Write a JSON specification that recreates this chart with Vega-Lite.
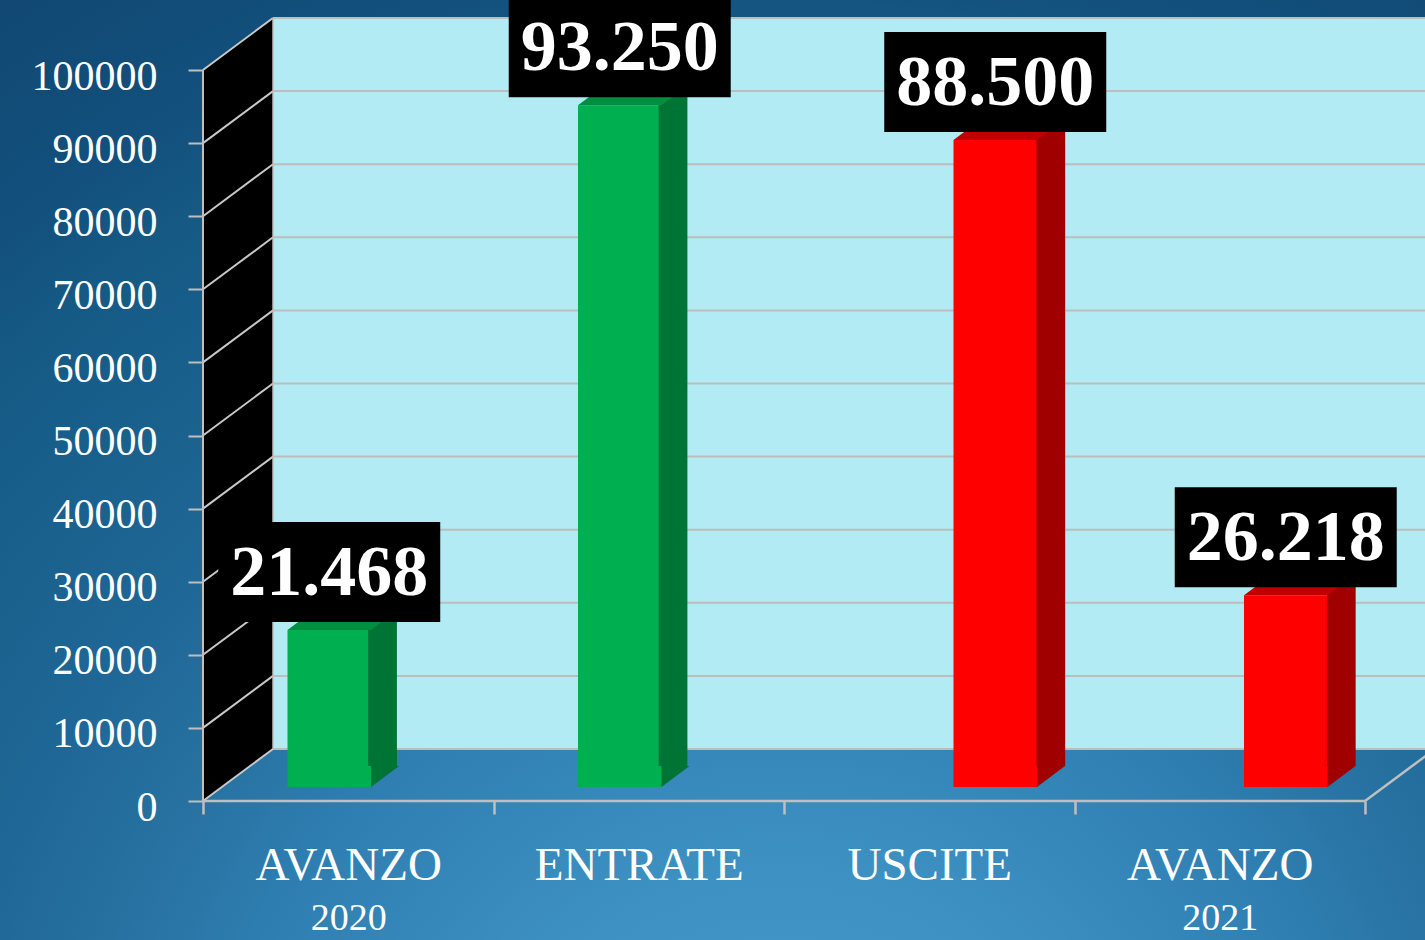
{
  "$schema": "https://vega.github.io/schema/vega-lite/v6.json",
  "width": 1222,
  "height": 801,
  "autosize": {"type": "none"},
  "padding": {"left": 203, "top": 0, "right": 0, "bottom": 139},
  "background": "#1f6796",
  "config": {
    "view": {"stroke": null},
    "axis": {"zindex": 1},
    "locale": {"number": {"decimal": ",", "thousands": ".", "grouping": [3], "currency": ["€", ""]}}
  },
  "datasets": {
    "voci": [
      {"voce": "AVANZO 2020", "serie": "Entrate", "valore": 21468},
      {"voce": "ENTRATE", "serie": "Entrate", "valore": 93250},
      {"voce": "USCITE", "serie": "Uscite", "valore": 88500},
      {"voce": "AVANZO 2021", "serie": "Uscite", "valore": 26218}
    ],
    "griglia": [
      {"v": 0}, {"v": 10000}, {"v": 20000}, {"v": 30000}, {"v": 40000}, {"v": 50000},
      {"v": 60000}, {"v": 70000}, {"v": 80000}, {"v": 90000}, {"v": 100000}
    ],
    "sfondo": [{}]
  },
  "resolve": {"scale": {"x": "independent"}, "axis": {"x": "independent"}},
  "layer": [
    {
      "data": {"name": "sfondo"},
      "layer": [
        {
          "mark": {
            "type": "rect",
            "fill": {
              "gradient": "radial",
              "x1": 0.55, "y1": 1, "r1": 0,
              "x2": 0.55, "y2": 1, "r2": 1,
              "stops": [
                {"offset": 0, "color": "#489dce"},
                {"offset": 0.2, "color": "#3f93c4"},
                {"offset": 0.41, "color": "#2e7db0"},
                {"offset": 0.46, "color": "#2a76a6"},
                {"offset": 0.59, "color": "#1f6796"},
                {"offset": 0.79, "color": "#155a85"},
                {"offset": 0.86, "color": "#13507d"},
                {"offset": 1, "color": "#104872"}
              ]
            }
          },
          "encoding": {
            "x": {
              "datum": -0.6988, "type": "quantitative",
              "scale": {"domain": [0, 4.2065], "nice": false, "zero": false},
              "axis": {
                "orient": "bottom",
                "values": [0.5, 3.5],
                "labelExpr": "datum.value < 2 ? '2020' : '2021'",
                "ticks": false, "domain": false, "grid": false, "title": null,
                "labelFont": "Liberation Serif", "labelFontSize": 38, "labelColor": "#FFFFFF",
                "labelPadding": 128, "labelBaseline": "alphabetic", "labelAngle": 0,
                "labelFlush": false, "labelLimit": 0, "labelOverlap": false,
                "offset": 0, "zindex": 1
              }
            },
            "x2": {"datum": 4.2065},
            "y": {
              "datum": -19015, "type": "quantitative",
              "scale": {"domain": [0, 109576], "nice": false, "zero": false}
            },
            "y2": {"datum": 109576}
          }
        },
        {
          "mark": {"type": "rect", "fill": "#B2EBF3", "xOffset": 70, "x2Offset": 70, "yOffset": -52, "y2Offset": -52},
          "encoding": {
            "x": {"datum": 0, "type": "quantitative", "scale": {"domain": [0, 4.2065], "nice": false, "zero": false}},
            "x2": {"datum": 4.2065},
            "y": {"datum": 0, "type": "quantitative", "scale": {"domain": [0, 109576], "nice": false, "zero": false}},
            "y2": {"datum": 100000}
          }
        },
        {
          "data": {"name": "griglia"},
          "mark": {"type": "rule", "stroke": "#BDBDBD", "strokeWidth": 2, "xOffset": 70, "x2Offset": 70, "yOffset": -52},
          "encoding": {
            "x": {"datum": 0, "type": "quantitative", "scale": {"domain": [0, 4.2065], "nice": false, "zero": false}},
            "x2": {"datum": 4.2065},
            "y": {"field": "v", "type": "quantitative", "scale": {"domain": [0, 109576], "nice": false, "zero": false}}
          }
        },
        {
          "mark": {"type": "point", "shape": "M0,0L0,-731L70,-783L70,-52Z", "size": 4, "filled": true, "fill": "#000000", "strokeWidth": 0, "opacity": 1},
          "encoding": {
            "x": {"datum": 0, "type": "quantitative", "scale": {"domain": [0, 4.2065], "nice": false, "zero": false}},
            "y": {"datum": 0, "type": "quantitative", "scale": {"domain": [0, 109576], "nice": false, "zero": false}}
          }
        },
        {
          "data": {"name": "griglia"},
          "mark": {"type": "rule", "stroke": "#C8C8C8", "strokeWidth": 2, "x2Offset": 70, "y2Offset": -52},
          "encoding": {
            "x": {"datum": 0, "type": "quantitative", "scale": {"domain": [0, 4.2065], "nice": false, "zero": false}},
            "x2": {"datum": 0},
            "y": {"field": "v", "type": "quantitative", "scale": {"domain": [0, 109576], "nice": false, "zero": false}},
            "y2": {"field": "v"}
          }
        },
        {
          "mark": {"type": "rule", "stroke": "#BFBFBF", "strokeWidth": 2},
          "encoding": {
            "x": {"datum": 0, "type": "quantitative", "scale": {"domain": [0, 4.2065], "nice": false, "zero": false}},
            "y": {"datum": 0, "type": "quantitative", "scale": {"domain": [0, 109576], "nice": false, "zero": false}},
            "y2": {"datum": 100000}
          }
        },
        {
          "mark": {"type": "rule", "stroke": "#BFBFBF", "strokeWidth": 1.5, "xOffset": 70, "yOffset": -52, "y2Offset": -52},
          "encoding": {
            "x": {"datum": 0, "type": "quantitative", "scale": {"domain": [0, 4.2065], "nice": false, "zero": false}},
            "y": {"datum": 0, "type": "quantitative", "scale": {"domain": [0, 109576], "nice": false, "zero": false}},
            "y2": {"datum": 100000}
          }
        },
        {
          "mark": {"type": "rule", "stroke": "#BFBFBF", "strokeWidth": 2.5},
          "encoding": {
            "x": {"datum": 0, "type": "quantitative", "scale": {"domain": [0, 4.2065], "nice": false, "zero": false}},
            "x2": {"datum": 4},
            "y": {"datum": 0, "type": "quantitative", "scale": {"domain": [0, 109576], "nice": false, "zero": false}}
          }
        },
        {
          "mark": {"type": "rule", "stroke": "#BFBFBF", "strokeWidth": 2.5, "x2Offset": 70, "y2Offset": -52},
          "encoding": {
            "x": {"datum": 4, "type": "quantitative", "scale": {"domain": [0, 4.2065], "nice": false, "zero": false}},
            "x2": {"datum": 4},
            "y": {"datum": 0, "type": "quantitative", "scale": {"domain": [0, 109576], "nice": false, "zero": false}},
            "y2": {"datum": 0}
          }
        }
      ]
    },
    {
      "data": {"name": "voci"},
      "resolve": {"scale": {"xOffset": "independent"}},
      "layer": [
        {
          "mark": {"type": "bar", "yOffset": -14, "y2Offset": -14},
          "encoding": {
            "x": {
              "field": "voce", "type": "nominal", "sort": null,
              "scale": {"type": "band", "domain": ["AVANZO 2020", "ENTRATE", "USCITE", "AVANZO 2021"], "paddingInner": 0, "paddingOuter": 0.10327, "align": 0},
              "axis": {
                "orient": "bottom",
                "title": null, "domain": false, "grid": false, "tickBand": "extent",
                "tickSize": 13, "tickColor": "#BFBFBF", "tickWidth": 2.5,
                "labelExpr": "split(datum.label, ' ')[0]",
                "labelFont": "Liberation Serif", "labelFontSize": 47, "labelColor": "#FFFFFF",
                "labelPadding": 65, "labelBaseline": "alphabetic", "labelAngle": 0, "labelLimit": 0,
                "offset": 0, "zindex": 1
              }
            },
            "xOffset": {"field": "serie", "type": "nominal", "scale": {"type": "band", "domain": ["Entrate", "Uscite"], "paddingInner": 0.0176, "paddingOuter": 0.7176, "align": 0.6926}},
            "y": {
              "field": "valore", "type": "quantitative",
              "scale": {"domain": [0, 109576], "nice": false, "zero": false},
              "axis": {
                "orient": "left",
                "values": [0, 10000, 20000, 30000, 40000, 50000, 60000, 70000, 80000, 90000, 100000],
                "format": "d", "title": null, "domain": false, "grid": false,
                "tickColor": "#BFBFBF", "tickSize": 15, "tickWidth": 2,
                "labelFont": "Liberation Serif", "labelFontSize": 42, "labelColor": "#FFFFFF",
                "labelPadding": 31, "labelBaseline": "middle", "labelOffset": 6, "labelLimit": 0,
                "labelFlush": false, "labelOverlap": false,
                "offset": 0, "zindex": 1
              }
            },
            "y2": {"datum": 0},
            "fill": {"condition": {"test": "datum.serie === 'Entrate'", "value": "#00B050"}, "value": "#FF0000"}
          }
        },
        {
          "mark": {"type": "bar", "yOffset": -35, "y2Offset": -35},
          "encoding": {
            "x": {
              "field": "voce", "type": "nominal", "sort": null,
              "scale": {"type": "band", "domain": ["AVANZO 2020", "ENTRATE", "USCITE", "AVANZO 2021"], "paddingInner": 0, "paddingOuter": 0.10327, "align": 0}
            },
            "xOffset": {"field": "serie", "type": "nominal", "scale": {"type": "band", "domain": ["Entrate", "Uscite"], "paddingInner": 0.6706, "paddingOuter": 1.0441, "align": 0.9465}},
            "y": {"field": "valore", "type": "quantitative", "scale": {"domain": [0, 109576], "nice": false, "zero": false}},
            "y2": {"datum": 0},
            "fill": {"condition": {"test": "datum.serie === 'Entrate'", "value": "#007434"}, "value": "#A00000"}
          }
        },
        {
          "mark": {"type": "point", "shape": "M-41.75,0L41.75,0L69.75,-21L-13.75,-21Z", "size": 4, "filled": true, "strokeWidth": 0, "opacity": 1, "yOffset": -14},
          "encoding": {
            "x": {
              "field": "voce", "type": "nominal", "sort": null,
              "scale": {"type": "band", "domain": ["AVANZO 2020", "ENTRATE", "USCITE", "AVANZO 2021"], "paddingInner": 0, "paddingOuter": 0.10327, "align": 0}
            },
            "xOffset": {"field": "serie", "type": "nominal", "scale": {"type": "band", "domain": ["Entrate", "Uscite"], "paddingInner": 0.0176, "paddingOuter": 0.7176, "align": 0.6926}},
            "y": {"field": "valore", "type": "quantitative", "scale": {"domain": [0, 109576], "nice": false, "zero": false}},
            "fill": {"condition": {"test": "datum.serie === 'Entrate'", "value": "#008F3E"}, "value": "#C00000"}
          }
        },
        {
          "mark": {"type": "point", "shape": "M41.75,0L41.75,-21L69.75,-21Z", "size": 4, "filled": true, "strokeWidth": 0, "opacity": 1, "yOffset": -14},
          "encoding": {
            "x": {
              "field": "voce", "type": "nominal", "sort": null,
              "scale": {"type": "band", "domain": ["AVANZO 2020", "ENTRATE", "USCITE", "AVANZO 2021"], "paddingInner": 0, "paddingOuter": 0.10327, "align": 0}
            },
            "xOffset": {"field": "serie", "type": "nominal", "scale": {"type": "band", "domain": ["Entrate", "Uscite"], "paddingInner": 0.0176, "paddingOuter": 0.7176, "align": 0.6926}},
            "y": {"datum": 0, "type": "quantitative", "scale": {"domain": [0, 109576], "nice": false, "zero": false}},
            "fill": {"condition": {"test": "datum.serie === 'Entrate'", "value": "#007434"}, "value": "#A00000"}
          }
        },
        {
          "mark": {"type": "bar", "width": 222, "fill": "#000000", "yOffset": -122, "y2Offset": -22},
          "encoding": {
            "x": {
              "field": "voce", "type": "nominal", "sort": null,
              "scale": {"type": "band", "domain": ["AVANZO 2020", "ENTRATE", "USCITE", "AVANZO 2021"], "paddingInner": 0, "paddingOuter": 0.10327, "align": 0}
            },
            "xOffset": {"field": "serie", "type": "nominal", "scale": {"type": "band", "domain": ["Entrate", "Uscite"], "paddingInner": 0.0176, "paddingOuter": 0.7176, "align": 0.6926}},
            "y": {"field": "valore", "type": "quantitative", "scale": {"domain": [0, 109576], "nice": false, "zero": false}},
            "y2": {"field": "valore"}
          }
        },
        {
          "mark": {"type": "text", "font": "Liberation Serif", "fontWeight": "bold", "fontSize": 72, "fill": "#FFFFFF", "align": "center", "baseline": "alphabetic", "yOffset": -49},
          "encoding": {
            "x": {
              "field": "voce", "type": "nominal", "sort": null,
              "scale": {"type": "band", "domain": ["AVANZO 2020", "ENTRATE", "USCITE", "AVANZO 2021"], "paddingInner": 0, "paddingOuter": 0.10327, "align": 0}
            },
            "xOffset": {"field": "serie", "type": "nominal", "scale": {"type": "band", "domain": ["Entrate", "Uscite"], "paddingInner": 0.0176, "paddingOuter": 0.7176, "align": 0.6926}},
            "y": {"field": "valore", "type": "quantitative", "scale": {"domain": [0, 109576], "nice": false, "zero": false}},
            "text": {"field": "valore", "type": "quantitative", "format": ",d"}
          }
        }
      ]
    }
  ]
}
